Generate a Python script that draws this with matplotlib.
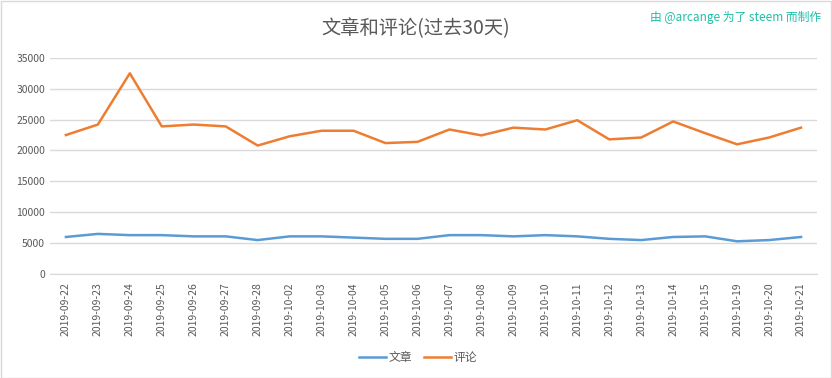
import matplotlib.pyplot as plt

plt.rcParams['font.family'] = ['Noto Sans CJK SC', 'DejaVu Sans']

dates = ['2019-09-22', '2019-09-23', '2019-09-24', '2019-09-25', '2019-09-26',
         '2019-09-27', '2019-09-28', '2019-10-02', '2019-10-03', '2019-10-04',
         '2019-10-05', '2019-10-06', '2019-10-07', '2019-10-08', '2019-10-09',
         '2019-10-10', '2019-10-11', '2019-10-12', '2019-10-13', '2019-10-14',
         '2019-10-15', '2019-10-19', '2019-10-20', '2019-10-21']
posts = [6000, 6500, 6300, 6300, 6100, 6100, 5500, 6100, 6100, 5900,
         5700, 5700, 6300, 6300, 6100, 6300, 6100, 5700, 5500, 6000,
         6100, 5300, 5500, 6000]
comments = [22500, 24200, 32500, 23900, 24200, 23900, 20800, 22300, 23200, 23200,
            21200, 21400, 23400, 22450, 23700, 23400, 24900, 21800, 22100, 24700,
            22800, 21000, 22100, 23700]

txt = '#595959'
fig = plt.figure(figsize=(8.32, 3.78), dpi=100)
ax = fig.add_axes([0.060, 0.275, 0.922, 0.572])

x = range(len(dates))
ax.plot(x, posts, color='#5B9BD5', lw=1.8, label='文章')
ax.plot(x, comments, color='#ED7D31', lw=1.8, label='评论')

ax.set_xlim(-0.5, len(dates) - 0.5)
ax.set_ylim(0, 35000)
ax.set_yticks(range(0, 35001, 5000))
ax.set_xticks(list(x))
ax.set_xticklabels(dates, rotation=90)
ax.tick_params(axis='both', length=0, labelsize=7.5, colors=txt)
ax.tick_params(axis='x', pad=6)
ax.grid(axis='y', color='#D9D9D9', lw=1)
ax.set_axisbelow(True)
for s in ['top', 'right', 'left']:
    ax.spines[s].set_visible(False)
ax.spines['bottom'].set_color('#D9D9D9')

fig.text(0.499, 0.925, '文章和评论(过去30天)', ha='center', va='center',
         fontsize=13.9, color=txt)
fig.text(0.987, 0.955, '由 @arcange 为了 steem 而制作', ha='right', va='center',
         fontsize=8.5, color='#1FBFA5')

fig.legend(loc='center', bbox_to_anchor=(0.502, 0.055), ncol=2, frameon=False,
           fontsize=8.5, labelcolor=txt, handlelength=2.3, columnspacing=1.0,
           handletextpad=0.2)

fig.patches.append(plt.Rectangle((0.001, 0.001), 0.998, 0.997, transform=fig.transFigure,
                                 fill=False, edgecolor='#D9D9D9', lw=1))
fig.savefig('out.png', dpi=100)
